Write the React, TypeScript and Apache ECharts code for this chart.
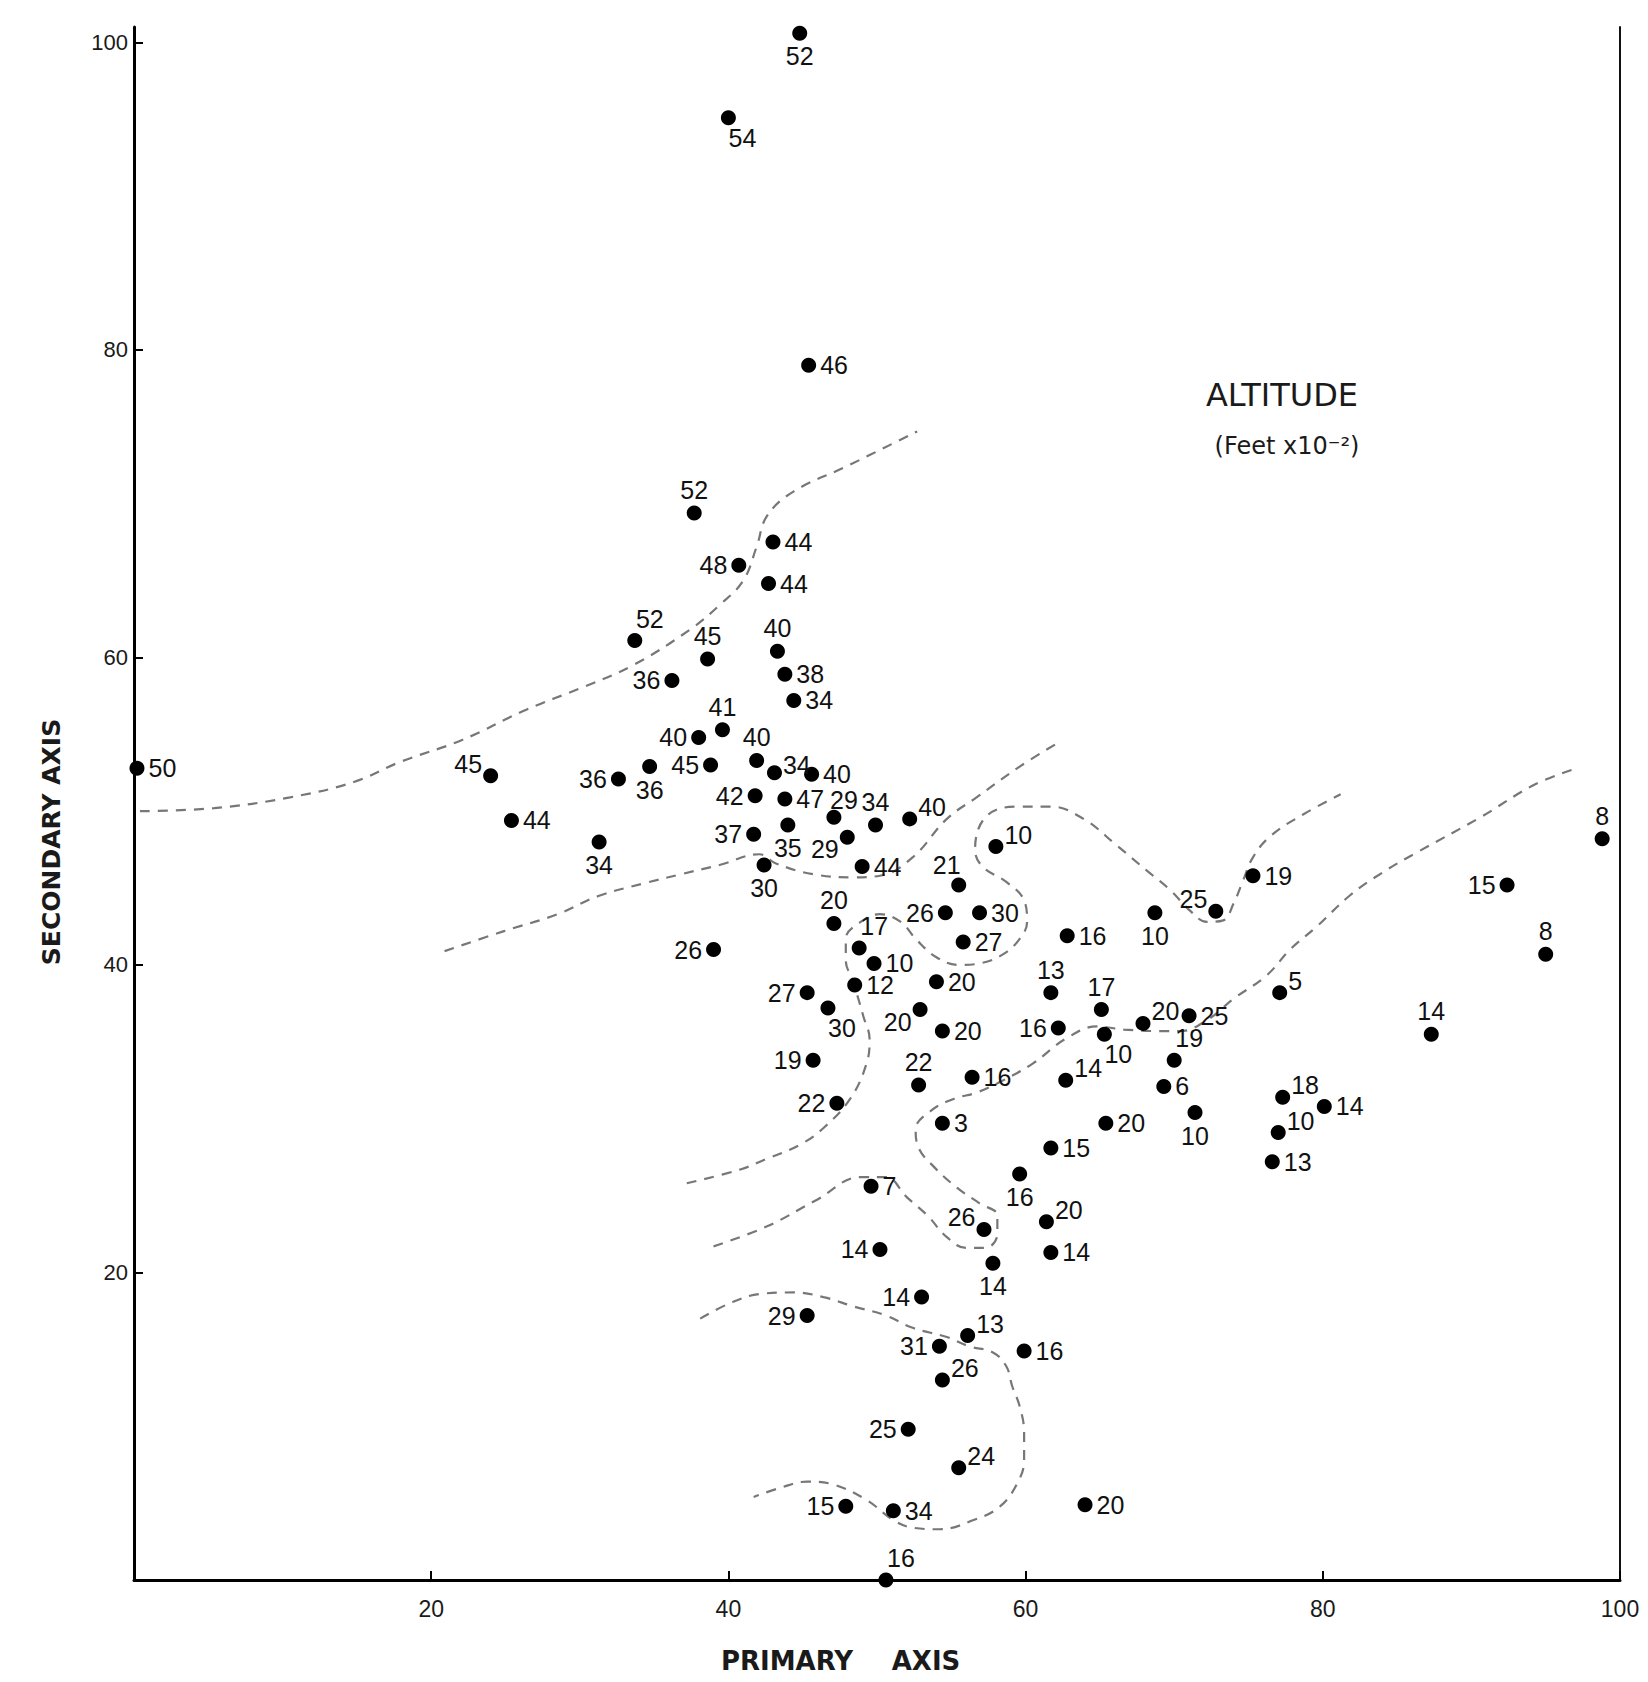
import React, { useEffect, useRef } from "react";
import * as echarts from "echarts";

// ---- point data (primary axis, secondary axis, altitude label) ----
const xValues = [
  44.8, 40.0, 45.4, 37.7, 43.0, 40.7, 42.7, 33.7, 38.6, 43.3,
  43.8, 36.2, 44.4, 39.6, 38.0, 41.9, 43.1, 45.6, 38.8, 34.7,
  32.6, 24.0, 0.2, 25.4, 31.3, 41.8, 43.8, 47.1, 49.9, 52.2,
  41.7, 44.0, 48.0, 49.0, 42.4, 58.0, 55.5, 54.6, 56.9, 55.8,
  47.1, 39.0, 48.8, 49.8, 48.5, 54.0, 45.3, 46.7, 52.9, 54.4,
  45.7, 52.8, 56.4, 47.3, 54.4, 62.8, 61.7, 65.1, 62.2, 65.3,
  67.9, 71.0, 70.0, 69.3, 71.4, 62.7, 65.4, 61.7, 59.6, 61.4,
  61.7, 68.7, 72.8, 75.3, 77.1, 87.3, 77.3, 80.1, 77.0, 76.6,
  92.4, 95.0, 98.8, 49.6, 57.2, 57.8, 50.2, 53.0, 45.3, 56.1,
  54.2, 59.9, 54.4, 52.1, 55.5, 47.9, 51.1, 64.0, 50.6,
];
const yValues = [
  100.6, 95.1, 79.0, 69.4, 67.5, 66.0, 64.8, 61.1, 59.9, 60.4,
  58.9, 58.5, 57.2, 55.3, 54.8, 53.3, 52.5, 52.4, 53.0, 52.9,
  52.1, 52.3, 52.8, 49.4, 48.0, 51.0, 50.8, 49.6, 49.1, 49.5,
  48.5, 49.1, 48.3, 46.4, 46.5, 47.7, 45.2, 43.4, 43.4, 41.5,
  42.7, 41.0, 41.1, 40.1, 38.7, 38.9, 38.2, 37.2, 37.1, 35.7,
  33.8, 32.2, 32.7, 31.0, 29.7, 41.9, 38.2, 37.1, 35.9, 35.5,
  36.2, 36.7, 33.8, 32.1, 30.4, 32.5, 29.7, 28.1, 26.4, 23.3,
  21.3, 43.4, 43.5, 45.8, 38.2, 35.5, 31.4, 30.8, 29.1, 27.2,
  45.2, 40.7, 48.2, 25.6, 22.8, 20.6, 21.5, 18.4, 17.2, 15.9,
  15.2, 14.9, 13.0, 9.8, 7.3, 4.8, 4.5, 4.9, 0.0,
];
const altitudes = [
  52, 54, 46, 52, 44, 48, 44, 52, 45, 40,
  38, 36, 34, 41, 40, 40, 34, 40, 45, 36,
  36, 45, 50, 44, 34, 42, 47, 29, 34, 40,
  37, 35, 29, 44, 30, 10, 21, 26, 30, 27,
  20, 26, 17, 10, 12, 20, 27, 30, 20, 20,
  19, 22, 16, 22, 3, 16, 13, 17, 16, 10,
  20, 25, 19, 6, 10, 14, 20, 15, 16, 20,
  14, 10, 25, 19, 5, 14, 18, 14, 10, 13,
  15, 8, 8, 7, 26, 14, 14, 14, 29, 13,
  31, 16, 26, 25, 24, 15, 34, 20, 16,
];
const labelSides = [
  "b", "bR", "r", "t", "r", "l", "r", "tR", "t", "t",
  "r", "l", "r", "t", "l", "t", "rt", "r", "l", "b",
  "l", "lT", "r", "r", "b", "l", "r", "tS", "t", "rT",
  "l", "b", "lB", "r", "b", "rT", "tL", "l", "r", "r",
  "t", "l", "tR", "r", "r", "r", "l", "bR", "lB", "r",
  "l", "t", "r", "l", "r", "r", "t", "t", "l", "bR",
  "rT", "r", "tR", "r", "b", "rT", "r", "r", "b", "rT",
  "r", "b", "lT", "r", "rT", "t", "rT", "r", "rT", "r",
  "l", "t", "t", "r", "lT", "b", "l", "l", "l", "rT",
  "l", "r", "rT", "l", "rT", "l", "r", "r", "tR",
];

// ---- dashed altitude contours ----
const contourA = [
  [0.4, 50.0], [5.4, 50.2], [10.5, 50.9], [14.8, 51.9], [17.9, 53.2], [22.0, 54.6],
  [26.4, 56.6], [30.3, 58.1], [33.6, 59.5], [37.4, 61.8], [39.4, 63.4], [41.0, 65.0],
  [41.9, 67.2], [42.6, 69.2], [44.4, 70.8], [47.9, 72.4], [52.7, 74.7],
];
const contourB = [
  [20.9, 40.9], [24.9, 42.2], [28.5, 43.3], [31.3, 44.5], [34.3, 45.3], [36.8, 45.9],
  [39.4, 46.5], [42.1, 47.2], [43.2, 46.6], [45.7, 45.9], [48.4, 45.7], [50.2, 45.8],
  [52.4, 47.0], [54.7, 49.5], [56.7, 50.9], [59.6, 52.9], [62.1, 54.4],
];
const contourC = [
  [37.2, 25.8], [40.8, 26.7], [42.6, 27.4], [44.8, 28.3], [46.4, 29.4], [48.2, 31.3],
  [49.3, 33.6], [49.5, 35.2], [49.1, 36.6], [48.4, 38.9], [47.9, 40.3], [47.9, 41.7],
  [48.9, 42.8], [50.2, 43.3], [51.6, 42.8], [52.6, 41.7], [54.0, 40.5], [55.5, 40.0],
  [56.9, 40.1], [58.5, 40.7], [59.6, 41.7], [60.1, 42.8], [59.9, 44.2], [58.7, 45.4],
  [57.1, 46.4], [56.6, 47.5], [57.4, 49.7], [59.6, 50.3], [61.7, 50.3], [63.9, 49.5],
  [66.1, 47.8], [68.2, 46.1], [69.7, 44.9], [71.1, 43.5], [72.2, 42.8], [73.3, 42.9],
  [74.0, 44.0], [74.6, 45.4], [75.3, 47.0], [76.5, 48.4], [78.7, 49.8], [81.2, 51.1],
];
const contourD = [
  [39.0, 21.7], [42.6, 23.0], [45.9, 24.7], [48.9, 26.2], [50.6, 26.2], [52.0, 24.9],
  [53.4, 23.7], [54.7, 22.3], [56.0, 21.6], [57.3, 21.6], [58.1, 22.5], [58.1, 23.7],
  [56.9, 24.5], [55.4, 25.5], [53.8, 26.9], [52.8, 28.1], [52.6, 29.3], [53.6, 30.5],
  [55.2, 31.3], [56.7, 31.7], [58.3, 32.4], [60.5, 33.6], [62.7, 35.2], [64.8, 36.0],
  [66.6, 35.8], [69.0, 35.7], [70.4, 35.7], [72.2, 36.4], [74.0, 37.8], [76.2, 39.3],
  [77.8, 41.0], [79.6, 42.5], [81.8, 44.5], [84.0, 46.0], [86.3, 47.3], [90.6, 49.6],
  [94.2, 51.7], [96.8, 52.7],
];
const contourE = [
  [38.1, 17.0], [40.1, 18.0], [42.1, 18.6], [44.4, 18.7], [46.4, 18.4], [48.4, 17.8],
  [50.6, 17.2], [52.4, 16.4], [54.7, 15.8], [56.2, 15.2], [57.8, 14.8], [58.7, 13.9],
  [59.1, 12.6], [59.6, 11.3], [59.9, 9.6], [59.9, 7.8], [59.5, 6.4], [58.3, 4.8],
  [56.5, 3.9], [54.2, 3.3], [52.4, 3.4], [51.1, 3.9], [49.3, 5.2], [47.1, 6.2],
  [45.3, 6.4], [43.5, 6.0], [41.7, 5.4],
];
const contours = [contourA, contourB, contourC, contourD, contourE];

const xTicks = [20, 40, 60, 80, 100];
const yTicks = [20, 40, 60, 80, 100];

const FONT = "Liberation Sans";

function labelFor(side: string) {
  switch (side) {
    case "t": return { position: "top", distance: 3 };
    case "b": return { position: "bottom", distance: 3 };
    case "l": return { position: "left", distance: 4 };
    case "r": return { position: "right", distance: 4 };
    case "rT": return { position: "right", distance: 3, offset: [-2, -12] };
    case "rt": return { position: "right", distance: 3, offset: [-2, -8] };
    case "lT": return { position: "left", distance: 3, offset: [2, -12] };
    case "lB": return { position: "left", distance: 3, offset: [2, 12] };
    case "tR": return { position: "top", distance: 4, offset: [15, 2] };
    case "tS": return { position: "top", distance: 3, offset: [10, 6] };
    case "tL": return { position: "top", distance: 2, offset: [-12, 2] };
    case "bR": return { position: "bottom", distance: 2, offset: [14, -2] };
    default: return { position: "right" };
  }
}

export default function App() {
  const ref = useRef<HTMLDivElement>(null);
  useEffect(() => {
    document.body.style.margin = "0";
    if (!ref.current) return;
    const chart = echarts.init(ref.current, null, { renderer: "svg" });

    const points = xValues.map((x, i) => ({
      value: [x, yValues[i], altitudes[i]],
      label: labelFor(labelSides[i]),
    }));

    const lineSeries = contours.map((c) => ({
      type: "line",
      data: c,
      smooth: 0.4,
      symbol: "none",
      silent: true,
      z: 1,
      lineStyle: { type: [10, 8], color: "#777777", width: 2.2 },
    }));

    chart.setOption({
      animation: false,
      backgroundColor: "#ffffff",
      grid: { left: 134, right: 28, top: 27, bottom: 102, containLabel: false, outerBoundsMode: "none" },
      xAxis: {
        type: "value",
        min: 0,
        max: 100,
        interval: 20,
        axisLine: { show: true, onZero: false, lineStyle: { color: "#000", width: 3 } },
        axisTick: { show: true, inside: true, length: 9, customValues: xTicks, lineStyle: { color: "#000", width: 2 } },
        axisLabel: { customValues: xTicks, margin: 17, fontSize: 23, color: "#1a1a1a", fontFamily: FONT },
        splitLine: { show: false },
      },
      yAxis: [
        {
          type: "value",
          min: 0,
          max: 101,
          interval: 20,
          axisLine: { show: true, onZero: false, lineStyle: { color: "#000", width: 3 } },
          axisTick: { show: true, inside: true, length: 9, customValues: yTicks, lineStyle: { color: "#000", width: 2 } },
          axisLabel: { customValues: yTicks, margin: 6, fontSize: 22, color: "#1a1a1a", fontFamily: FONT },
          splitLine: { show: false },
        },
        {
          type: "value",
          position: "right",
          min: 0,
          max: 101,
          axisLine: { show: true, onZero: false, lineStyle: { color: "#111", width: 2 } },
          axisTick: { show: false },
          axisLabel: { show: false },
          splitLine: { show: false },
        },
      ],
      series: [
        ...lineSeries,
        {
          type: "scatter",
          yAxisIndex: 0,
          data: points,
          symbol: "circle",
          symbolSize: 15,
          z: 3,
          itemStyle: { color: "#000", opacity: 1 },
          label: {
            show: true,
            formatter: (p: any) => String(p.value[2]),
            fontSize: 25,
            color: "#111",
            fontFamily: FONT,
          },
        },
      ],
      graphic: [
        {
          type: "text",
          x: 51,
          y: 842,
          rotation: Math.PI / 2,
          style: {
            text: "SECONDARY AXIS",
            fontSize: 25,
            fontWeight: "bold",
            fontFamily: "DejaVu Sans",
            fill: "#1a1a1a",
            textAlign: "center",
            textVerticalAlign: "middle",
          },
        },
        {
          type: "text",
          x: 787,
          y: 1661,
          style: {
            text: "PRIMARY",
            fontSize: 26,
            fontWeight: "bold",
            fontFamily: "DejaVu Sans",
            fill: "#1a1a1a",
            textAlign: "center",
            textVerticalAlign: "middle",
          },
        },
        {
          type: "text",
          x: 926,
          y: 1661,
          style: {
            text: "AXIS",
            fontSize: 26,
            fontWeight: "bold",
            fontFamily: "DejaVu Sans",
            fill: "#1a1a1a",
            textAlign: "center",
            textVerticalAlign: "middle",
          },
        },
        {
          type: "text",
          x: 1282,
          y: 395,
          style: {
            text: "ALTITUDE",
            fontSize: 32,
            fontFamily: "DejaVu Sans",
            fill: "#1a1a1a",
            textAlign: "center",
            textVerticalAlign: "middle",
          },
        },
        {
          type: "text",
          x: 1287,
          y: 446,
          style: {
            text: "(Feet x10\u207B\u00B2)",
            fontSize: 24,
            fontFamily: "DejaVu Sans",
            fill: "#1a1a1a",
            textAlign: "center",
            textVerticalAlign: "middle",
          },
        },
      ],
    });
    return () => chart.dispose();
  }, []);
  return <div ref={ref} style={{ width: 1648, height: 1682 }} />;
}
